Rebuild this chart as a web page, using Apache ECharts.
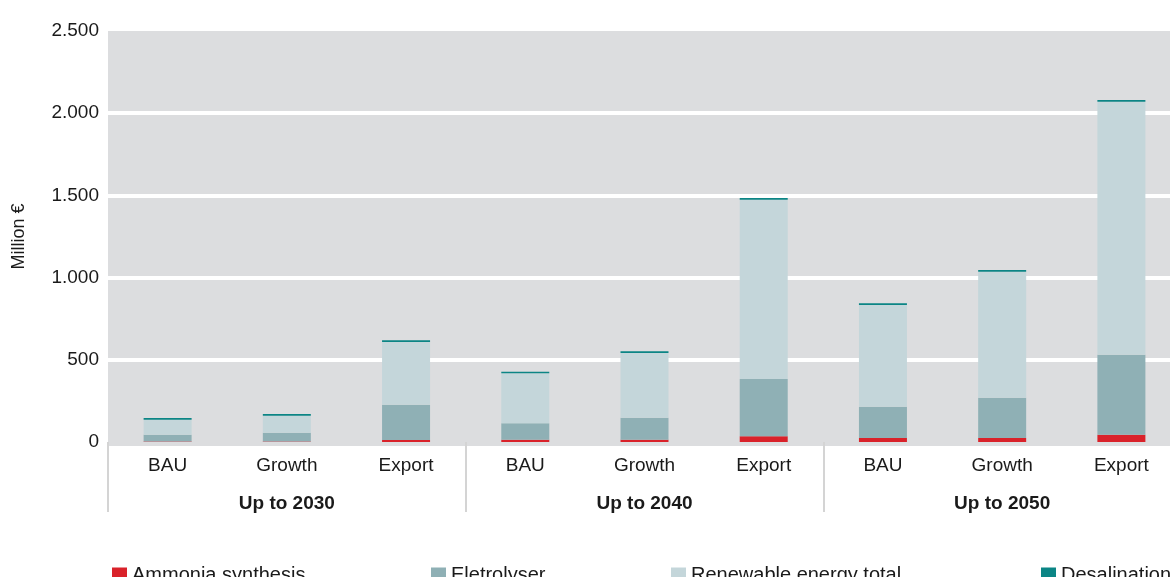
<!DOCTYPE html>
<html>
<head>
<meta charset="utf-8">
<script src="https://cdn.jsdelivr.net/npm/echarts@6/dist/echarts.min.js"></script>
<style>html,body{margin:0;padding:0;background:#fff;}#c{width:1170px;height:577px;}</style>
</head>
<body>
<div id="c"></div>
<script>
const categories = ['BAU','Growth','Export','BAU','Growth','Export','BAU','Growth','Export'];
const groups = ['Up to 2030','Up to 2040','Up to 2050'];
const yTicks = [0, 500, 1000, 1500, 2000, 2500];
const seriesNames = ['Ammonia synthesis','Eletrolyser','Renewable energy total','Desalination'];
const ammonia = [3, 3, 12, 14, 14, 35, 24, 24, 44];
const electrolyser = [41, 54, 215, 100, 134, 348, 191, 245, 487];
const renewable = [92, 103, 382, 304, 394, 1091, 619, 767, 1539];
const desalination = [10, 10, 10, 10, 10, 10, 10, 10, 10];

const colors = ['#d9222a', '#8fb0b5', '#c4d6da', '#0b8585'];
const values = [ammonia, electrolyser, renewable, desalination];
const FONT = 'Liberation Sans';
const BG = '#dcdddf';

const chart = echarts.init(document.getElementById('c'), null, {renderer: 'canvas'});
const fmt = v => String(v).replace(/\B(?=(\d{3})+(?!\d))/g, '.');

const legendLeft = [107, 426, 666, 1036];
chart.setOption({
  animation: false,
  textStyle: {fontFamily: FONT},
  grid: {left: 108, top: 31, width: 1073, bottom: 135, show: true, backgroundColor: BG, borderWidth: 0, outerBoundsMode: 'none', containLabel: false},
  graphic: [{type: 'rect', left: 108, top: 442, shape: {width: 1062, height: 4}, style: {fill: BG}, z: -1, silent: true}],
  legend: seriesNames.map((n, i) => ({
    data: [n], left: legendLeft[i], top: 560, itemWidth: 15, itemHeight: 15, itemGap: 10,
    icon: 'rect', textStyle: {fontSize: 20, color: '#1a1a1a', fontFamily: FONT}
  })),
  xAxis: [
    {
      type: 'category', data: categories, position: 'bottom',
      axisLine: {show: false}, axisTick: {show: false},
      axisLabel: {fontSize: 19, color: '#1a1a1a', margin: 14, interval: 0}
    },
    {
      type: 'category', data: groups, position: 'bottom',
      axisLine: {show: false},
      axisTick: {show: true, length: 70, interval: 0, lineStyle: {color: '#d4d4d4', width: 2}},
      axisLabel: {fontSize: 19, fontWeight: 'bold', color: '#1a1a1a', margin: 52, interval: 0}
    }
  ],
  yAxis: {
    type: 'value', min: yTicks[0], max: yTicks[yTicks.length - 1], interval: 500,
    name: 'Million €', nameLocation: 'middle', nameGap: 80, nameRotate: 90,
    nameTextStyle: {fontSize: 18, color: '#1a1a1a', fontFamily: FONT},
    axisLine: {show: false}, axisTick: {show: false},
    axisLabel: {fontSize: 19, color: '#1a1a1a', margin: 9, padding: [0, 0, 13, 0], formatter: fmt},
    splitLine: {show: true, showMinLine: false, showMaxLine: false, lineStyle: {color: '#ffffff', width: 4}}
  },
  series: seriesNames.map((n, i) => ({
    name: n, type: 'bar', stack: 'total', xAxisIndex: 0,
    data: values[i], barWidth: 48,
    itemStyle: {color: colors[i]}
  }))
});
</script>
</body>
</html>
